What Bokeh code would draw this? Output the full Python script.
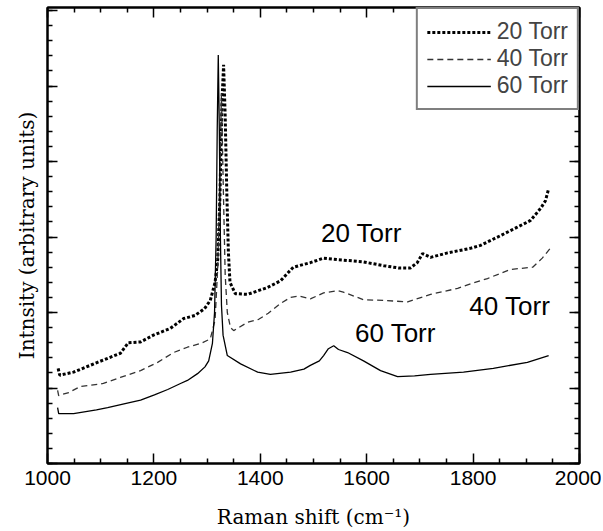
from bokeh.plotting import figure
from bokeh.models import (Range1d, FixedTicker, LinearAxis, Legend, LegendItem, Label,
                          CustomJSTickFormatter)
from bokeh.embed import file_html
from bokeh.resources import INLINE

# ---- data ----
shift_20 = [1020, 1023, 1049, 1094, 1137, 1152, 1175, 1199, 1231, 1256, 1277, 1295, 1306, 1315,
            1320, 1324, 1328, 1331, 1334, 1337, 1340, 1343, 1353, 1376, 1413, 1438, 1462, 1494,
            1519, 1547, 1594, 1632, 1660, 1682, 1695, 1705, 1720, 1752, 1795, 1814, 1852, 1883,
            1908, 1927, 1936, 1942]
int_20 = [1.26, 1.17, 1.21, 1.34, 1.46, 1.60, 1.61, 1.70, 1.79, 1.92, 1.96, 2.05, 2.16, 2.40,
          2.70, 3.50, 4.80, 5.28, 4.60, 3.60, 2.80, 2.40, 2.25, 2.24, 2.33, 2.42, 2.60, 2.66,
          2.72, 2.70, 2.67, 2.62, 2.59, 2.59, 2.66, 2.78, 2.73, 2.79, 2.85, 2.89, 3.02, 3.13,
          3.22, 3.38, 3.48, 3.64]

shift_40 = [1019, 1021, 1040, 1062, 1105, 1137, 1175, 1207, 1237, 1263, 1288, 1306, 1315, 1320,
            1324, 1327, 1330, 1334, 1338, 1344, 1350, 1376, 1397, 1415, 1438, 1457, 1472, 1494,
            1519, 1545, 1556, 1594, 1632, 1677, 1720, 1771, 1795, 1827, 1870, 1912, 1930, 1945]
int_40 = [0.97, 0.90, 0.94, 1.02, 1.06, 1.14, 1.23, 1.34, 1.47, 1.54, 1.59, 1.65, 1.90, 2.60,
          3.80, 4.90, 3.80, 2.50, 2.00, 1.80, 1.76, 1.87, 1.91, 1.99, 2.12, 2.20, 2.22, 2.18,
          2.26, 2.29, 2.27, 2.17, 2.16, 2.14, 2.24, 2.32, 2.38, 2.45, 2.57, 2.60, 2.72, 2.85]

shift_60 = [1019, 1021, 1049, 1092, 1113, 1150, 1175, 1201, 1226, 1250, 1263, 1282, 1296, 1303,
            1310, 1314, 1317, 1319, 1321, 1323, 1325, 1327, 1330, 1338, 1363, 1395, 1419, 1457,
            1482, 1494, 1511, 1519, 1528, 1538, 1547, 1564, 1594, 1626, 1658, 1690, 1720, 1782,
            1838, 1902, 1942]
int_60 = [0.74, 0.66, 0.66, 0.71, 0.74, 0.80, 0.84, 0.91, 0.98, 1.06, 1.10, 1.19, 1.28, 1.36,
          1.59, 2.00, 3.00, 4.40, 5.41, 4.40, 3.00, 2.10, 1.70, 1.43, 1.32, 1.21, 1.18, 1.21,
          1.25, 1.30, 1.36, 1.43, 1.52, 1.56, 1.51, 1.47, 1.36, 1.23, 1.15, 1.16, 1.18, 1.21,
          1.26, 1.34, 1.43]

series_names = ["20 Torr", "40 Torr", "60 Torr"]
x_ticks = [1000, 1200, 1400, 1600, 1800, 2000]
x_minor = [1050, 1100, 1150, 1250, 1300, 1350, 1450, 1500, 1550, 1650, 1700, 1750,
           1850, 1900, 1950]
y_ticks = [0, 1, 2, 3, 4, 5, 6]
y_minor = [i / 5 for i in range(31)]

label_x = [1590, 1869, 1654]
label_y = [3.05, 2.09, 1.73]

# ---- figure ----
p = figure(frame_width=532, frame_height=456,
           x_range=Range1d(1000, 2000), y_range=Range1d(0, 6.04),
           output_backend="svg", toolbar_location=None,
           min_border_left=47, min_border_right=22, min_border_top=7, min_border_bottom=0,
           background_fill_color="white", border_fill_color="white")
p.grid.visible = False
p.outline_line_color = "black"
p.outline_line_width = 2

xt = FixedTicker(ticks=x_ticks, minor_ticks=x_minor)
yt = FixedTicker(ticks=y_ticks, minor_ticks=y_minor)


def style_axis(ax, show_labels):
    ax.axis_line_color = "black"
    ax.axis_line_width = 2
    ax.major_tick_in = 10
    ax.major_tick_out = 0
    ax.minor_tick_in = 5
    ax.minor_tick_out = 0
    ax.major_tick_line_color = "black"
    ax.minor_tick_line_color = "black"
    ax.major_tick_line_width = 1.5
    ax.minor_tick_line_width = 1.5
    if not show_labels:
        ax.formatter = CustomJSTickFormatter(code="return ''")
        ax.major_label_standoff = 0


xa = p.xaxis[0]
xa.ticker = xt
style_axis(xa, True)
xa.major_label_text_font = "Liberation Sans"
xa.major_label_text_font_size = "21px"
xa.major_label_text_color = "black"
xa.major_label_standoff = 7
xa.axis_label = "Raman shift (cm\u207b\u00b9)"
xa.axis_label_text_font = "DejaVu Serif"
xa.axis_label_text_font_size = "20px"
xa.axis_label_text_font_style = "normal"
xa.axis_label_text_color = "black"
xa.axis_label_standoff = 17

ya = p.yaxis[0]
ya.ticker = yt
style_axis(ya, False)
ya.axis_label = "Intnsity (arbitrary units)"
ya.axis_label_text_font = "DejaVu Serif"
ya.axis_label_text_font_size = "20px"
ya.axis_label_text_font_style = "normal"
ya.axis_label_text_color = "black"
ya.axis_label_standoff = 9

top_ax = LinearAxis(ticker=xt)
style_axis(top_ax, False)
p.add_layout(top_ax, "above")
right_ax = LinearAxis(ticker=yt)
style_axis(right_ax, False)
p.add_layout(right_ax, "right")

r20 = p.line(shift_20, int_20, line_color="black", line_width=3, line_dash="3 2")
r40 = p.line(shift_40, int_40, line_color="#333333", line_width=1.3, line_dash="6 4")
r60 = p.line(shift_60, int_60, line_color="black", line_width=1.3)

for name, lx, ly in zip(series_names, label_x, label_y):
    p.add_layout(Label(x=lx, y=ly, text=name, text_font="Liberation Sans",
                       text_font_size="26px", text_color="black",
                       text_align="center", text_baseline="middle"))

legend = Legend(items=[LegendItem(label=series_names[0], renderers=[r20]),
                       LegendItem(label=series_names[1], renderers=[r40]),
                       LegendItem(label=series_names[2], renderers=[r60])],
                location="top_right", margin=0, padding=9, spacing=0,
                glyph_width=64, glyph_height=18, label_height=18, label_standoff=6,
                label_text_font="Liberation Sans", label_text_font_size="23px",
                border_line_color="black", border_line_width=2.5,
                background_fill_color="white", background_fill_alpha=1)
p.add_layout(legend, "center")

open("out.html", "w").write(file_html(p, INLINE))
